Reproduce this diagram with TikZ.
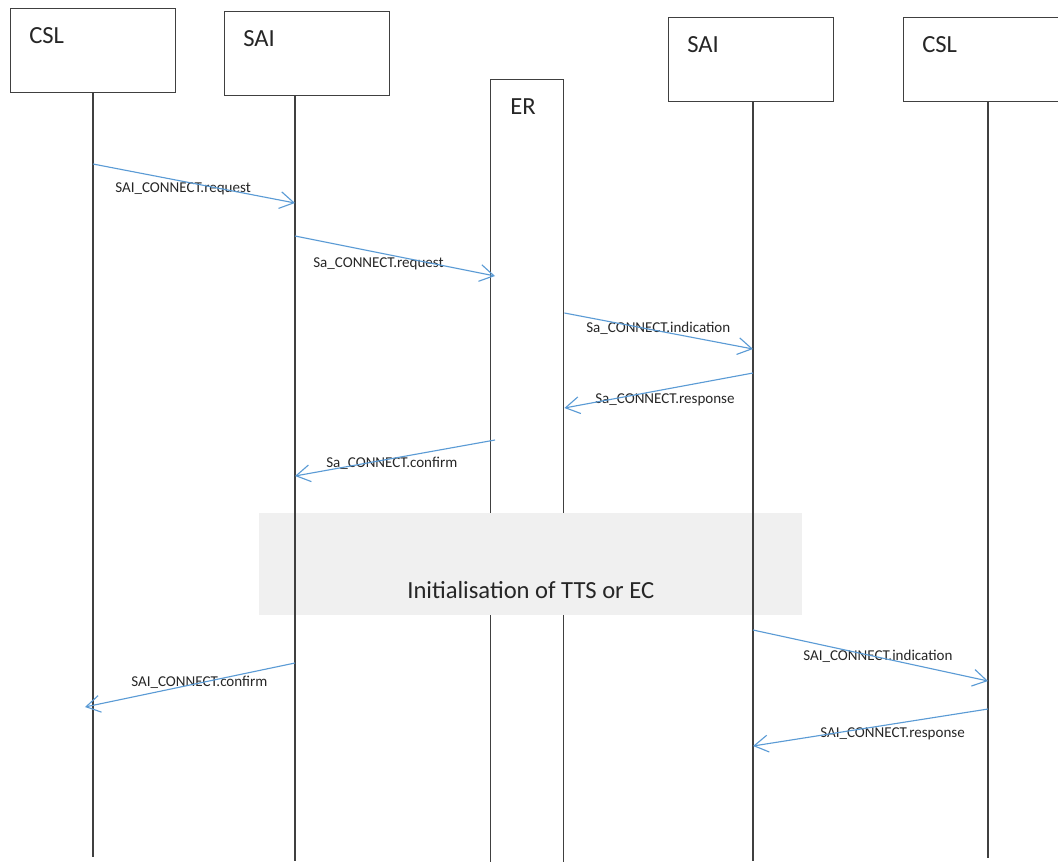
\documentclass[tikz,border=0pt]{standalone}
\usepackage{fontspec}
\setmainfont{Carlito}
\usetikzlibrary{arrows.meta,positioning}
\definecolor{msgblue}{HTML}{5B9BD5}
\definecolor{linegray}{HTML}{404040}
\definecolor{boxgray}{HTML}{F0F0F0}
\definecolor{txtgray}{HTML}{262626}
\begin{document}
\begin{tikzpicture}[x=0.025cm,y=-0.025cm,
    box/.style={draw=linegray,line width=1pt,minimum width=4.125cm,minimum height=2.1cm,anchor=north west,inner sep=0pt},
    head/.style={inner sep=0pt,text=txtgray,font=\fontsize{17.5}{21}\selectfont},
    phase/.style={fill=boxgray,minimum width=13.575cm,minimum height=2.55cm,anchor=north west,inner sep=0pt},
    life/.style={draw=linegray,line width=1pt},
    msg/.style={draw=msgblue,line width=0.8pt,-{Straight Barb[length=10pt,width=12pt]}},
    lbl/.style={anchor=base west,inner sep=0pt,text=txtgray,font=\fontsize{10.7}{13}\selectfont}]
\useasboundingbox (0,0) rectangle (1058,861);
\clip (0,0) rectangle (1058,861);
\node[box](csla) at (10,8) {};
\node[box](saia) at (224,11) {};
\node[box,minimum width=1.825cm,minimum height=20.5cm](er) at (490,79) {};
\node[box](saib) at (668,17) {};
\node[box](cslb) at (903,17) {};
\node[head,below right=0.475cm and 0.475cm of csla.north west](h1){CSL};
\node[head,below right=0.475cm and 0.475cm of saia.north west](h2){SAI};
\node[head,below right=0.475cm and 0.5cm of er.north west](h3){ER};
\node[head,below right=0.475cm and 0.475cm of saib.north west](h4){SAI};
\node[head,below right=0.475cm and 0.475cm of cslb.north west](h5){CSL};
\node[phase](init) at (259,513) {};
\node[head,above=0.425cm of init.south](h6){Initialisation of TTS or EC};
\coordinate (l1) at (93,92);
\coordinate (l2) at (295,95);
\coordinate (l3) at (753,101);
\coordinate (l4) at (988,101);
\draw[life](l1) -- (l1 |- 0,857);
\draw[life](l2) -- (l2 |- 0,861);
\draw[life](l3) -- (l3 |- 0,861);
\draw[life](l4) -- (l4 |- 0,858);
\node[lbl](t1) at (115,192){SAI\_CONNECT.request};
\node[lbl](t2) at (313,267){Sa\_CONNECT.request};
\node[lbl](t3) at (586,332){Sa\_CONNECT.indication};
\node[lbl](t4) at (595,403){Sa\_CONNECT.response};
\node[lbl](t5) at (326,467){Sa\_CONNECT.confirm};
\node[lbl](t6) at (803,660){SAI\_CONNECT.indication};
\node[lbl](t7) at (131,686){SAI\_CONNECT.confirm};
\node[lbl](t8) at (820,737){SAI\_CONNECT.response};
\draw[msg](l1 |- 0,164) -- (l2 |- 0,203);
\draw[msg](l2 |- 0,236) -- ([xshift=0.125cm]er.west |- 0,276);
\draw[msg](er.east |- 0,313) -- (l3 |- 0,349);
\draw[msg](l3 |- 0,373) -- (er.east |- 0,408);
\draw[msg]([xshift=0.125cm]er.west |- 0,440) -- (l2 |- 0,476);
\draw[msg](l3 |- 0,630) -- (l4 |- 0,681);
\draw[msg](l2 |- 0,663) -- ([xshift=-0.2cm]l1 |- 0,707);
\draw[msg](l4 |- 0,709) -- (l3 |- 0,746);
\end{tikzpicture}
\end{document}
